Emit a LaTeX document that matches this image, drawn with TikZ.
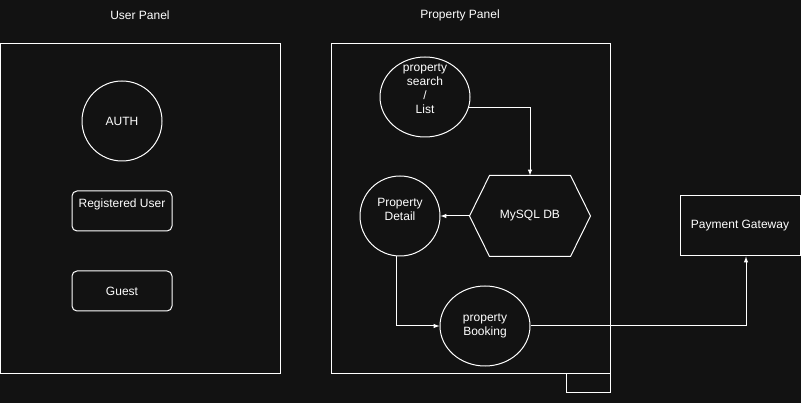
\documentclass[tikz,border=0pt]{standalone}
\usepackage{fontspec}
\setmainfont{Liberation Sans}
\usepackage{xcolor}
\usepackage{tikz}
\usetikzlibrary{shapes.geometric}

\definecolor{bgdark}{HTML}{121212}

\begin{document}
\begin{tikzpicture}[x=1pt, y=-1pt, line width=1pt, draw=white, text=white,
    every node/.style={font=\fontsize{12}{14}\selectfont, text=white, align=center},
    box/.style={draw=white, minimum width=#1, minimum height=40pt, rounded corners=5pt}]

\fill[bgdark] (0,0) rectangle (801,403);
\useasboundingbox (0,0) rectangle (801,403);

\node (usertitle) at (140,15) {User Panel};
\node (proptitle) at (460,15) {Property Panel};

\draw[white] (0.5,44) rectangle (280,374);

\draw[white] (331,44) rectangle (610,374);
\draw[white] (566,374) -- (566,393) -- (610,393) -- (610,374);

\node[draw=white, circle, minimum size=80pt, inner sep=0pt] (auth) at (122,121) {AUTH};

\node[box=100pt] (reguser) at (122,211) {};
\node (regtxt) at (122,204) {Registered User};

\node[box=100pt] (guest) at (122,291) {Guest};

\node[draw=white, ellipse, minimum width=90pt, minimum height=80pt, inner sep=0pt] (search) at (425,97) {};
\node (searchtxt) at (425,89) {property\\search\\/\\List};

\node[minimum width=120pt, minimum height=80pt] (db) at (530,216) {MySQL DB};
\draw[white] (db.west) -- ([xshift=20pt]db.north west) -- ([xshift=-20pt]db.north east)
    -- (db.east) -- ([xshift=-20pt]db.south east) -- ([xshift=20pt]db.south west) -- cycle;

\node[draw=white, circle, minimum size=80pt, inner sep=0pt] (detail) at (400,216) {};
\node (detailtxt) at (400,209) {Property\\Detail};

\node[draw=white, ellipse, minimum width=90pt, minimum height=80pt, inner sep=0pt] (booking) at (485,326) {property\\Booking};

\node[draw=white, minimum width=120pt, minimum height=60pt] (payment) at (740,226) {Payment Gateway};

\draw [>=latex, ->, white] (search.-14) -| (db.north);

\draw [>=latex, ->, white] (db.west) -- (detail.east);

\draw [>=latex, ->, white] ([xshift=-4pt]detail.south) |- (booking.west);

\draw [>=latex, ->, white] (booking.east) -| ([xshift=6pt]payment.south);

\end{tikzpicture}
\end{document}
